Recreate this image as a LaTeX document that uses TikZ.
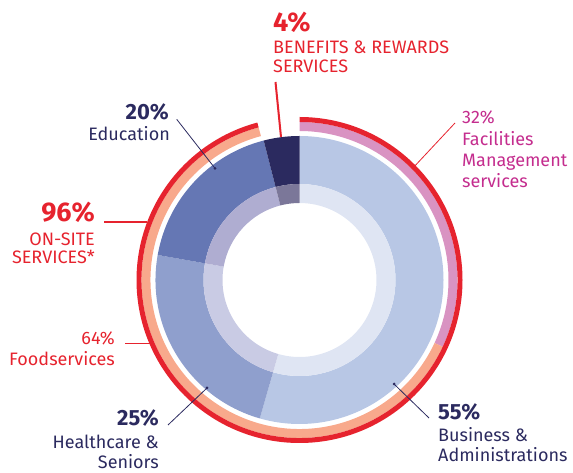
\documentclass[tikz,border=0pt]{standalone}
\usepackage{fontspec}
\setmainfont{Fira Sans}
\usetikzlibrary{calc}
\definecolor{navy}{HTML}{2B2A5F}
\definecolor{redc}{HTML}{E6232E}
\definecolor{magc}{HTML}{C42D8E}
\definecolor{pinkr}{HTML}{D993C2}
\definecolor{salm}{HTML}{F8A98C}
\definecolor{bizA}{HTML}{B8C7E5}
\definecolor{bizB}{HTML}{DFE5F3}
\definecolor{hcA}{HTML}{8F9FCD}
\definecolor{hcB}{HTML}{C9CBE4}
\definecolor{edA}{HTML}{6577B4}
\definecolor{edB}{HTML}{AFADD1}
\definecolor{nvA}{HTML}{2B2A5F}
\definecolor{nvB}{HTML}{7B7799}
\newcommand\ringseg[5]{% inner, outer, a1, a2, colour
  \fill[#5] ($(C)+(#3:#2pt)$) arc[start angle=#3,end angle=#4,radius=#2pt]
    -- ($(C)+(#4:#1pt)$) arc[start angle=#4,end angle=#3,radius=#1pt] -- cycle;}
\tikzset{
  txt/.style={inner sep=0pt, font=\fontsize{18}{21}\selectfont},
  pct/.style={inner sep=0pt, font=\fontsize{22}{24}\selectfont\bfseries},
  bigpct/.style={inner sep=0pt, font=\fontsize{27}{30}\selectfont\bfseries},
  capt/.style={inner sep=0pt, font=\fontsize{18}{19}\selectfont},
  leadn/.style={navy, line width=0.8pt},
  leadr/.style={redc, line width=0.8pt},
  dotn/.style={circle, fill=navy, inner sep=0pt, minimum size=3pt},
}
\begin{document}
\begin{tikzpicture}[x=1pt,y=1pt]
\useasboundingbox (0,0) rectangle (573,473);
\coordinate (C) at (299.5,193);
% main donut
\ringseg{96}{144}{90}{-106}{bizA}
\ringseg{96}{144}{-106}{-190}{hcA}
\ringseg{96}{144}{-190}{-255.6}{edA}
\ringseg{96}{144}{-255.6}{-270}{nvA}
\ringseg{77}{96}{90}{-106}{bizB}
\ringseg{77}{96}{-106}{-190}{hcB}
\ringseg{77}{96}{-190}{-255.6}{edB}
\ringseg{77}{96}{-255.6}{-270}{nvB}
% outer rings
\ringseg{149}{158}{90}{-25}{pinkr}
\ringseg{149}{158}{-25}{-255}{salm}
\ringseg{158}{163}{90}{-255}{redc}

% texts
\node[bigpct, redc, anchor=base west] (bpct) at (273,441) {4\%};
\node[capt, redc, anchor=base west] (bl1) at (273,419) {BENEFITS \& REWARDS};
\node[capt, redc, anchor=base west] (bl2) at (273,400) {SERVICES};

\node[pct, navy, anchor=base east] (epct) at (169,353.7) {20\%};
\node[txt, navy, anchor=base east] (el1) at (170,332.3) {Education};

\node[bigpct, redc, anchor=base east] (opct) at (95,251) {96\%};
\node[capt, redc, anchor=base east] (ol1) at (95,227.5) {ON-SITE};
\node[capt, redc, anchor=base east] (ol2) at (95,209) {SERVICES*};

\node[txt, magc, anchor=base west] (fpct) at (462,349) {32\%};
\node[txt, magc, anchor=base west] (fl1) at (462,327) {Facilities};
\node[txt, magc, anchor=base west] (fl2) at (462,306) {Management};
\node[txt, magc, anchor=base west] (fl3) at (462,285) {services};

\node[txt, redc, anchor=base east] (dpct) at (115,128) {64\%};
\node[txt, redc, anchor=base east] (dl1) at (115,107) {Foodservices};

\node[pct, navy, anchor=base east] (hpct) at (159,47) {25\%};
\node[txt, navy, anchor=base east] (hl1) at (159,24) {Healthcare \&};
\node[txt, navy, anchor=base east] (hl2) at (159,4.5) {Seniors};

\node[pct, navy, anchor=base west] (spct) at (438,53) {55\%};
\node[txt, navy, anchor=base west] (sl1) at (438,31) {Business \&};
\node[txt, navy, anchor=base west] (sl2) at (438,11) {Administrations};

% leader end points
\coordinate (bA) at (275.5,391);
\coordinate (bB) at (281,336);
\coordinate (oA) at (104,251.3);
\coordinate (oB) at (147,251.3);
\coordinate (fA) at (455,350);
\coordinate (fB) at (412,304);
\coordinate (dA) at (125,130);
\coordinate (dB) at (153,130);
\coordinate (eA) at (176.7,353.7);
\node[dotn] (eB) at (215,304.7) {};
\coordinate (hA) at (168,48);
\node[dotn] (hB) at (207,85) {};
\coordinate (sA) at (429,55);
\node[dotn] (sB) at (394,89) {};

\draw[redc, line width=2pt] (bA) -- (bB);
\draw[redc, line width=2.2pt] (oA) -- (oB);
\draw[leadr] (fA) -- (fB);
\draw[leadr] (dA) -- (dB);
\draw[leadn] (eA) -- (eB.center);
\draw[leadn] (hA) -- (hB.center);
\draw[leadn] (sA) -- (sB.center);
\end{tikzpicture}
\end{document}
